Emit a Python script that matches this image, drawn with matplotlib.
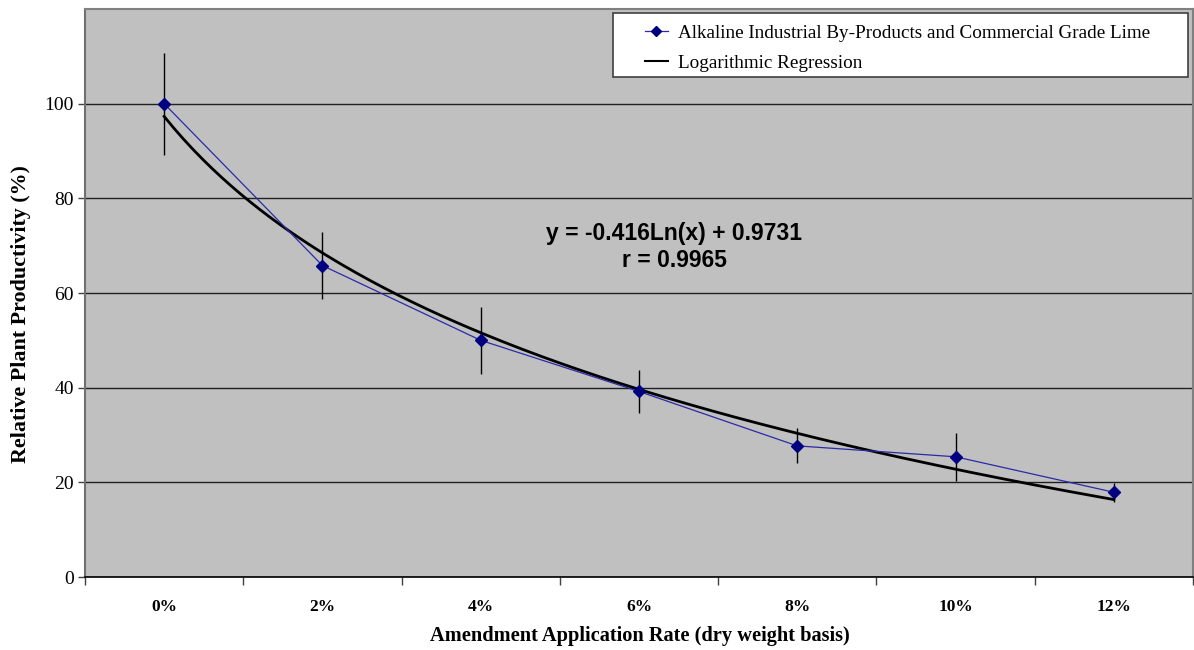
import numpy as np
import matplotlib
matplotlib.use("Agg")
import matplotlib.pyplot as plt
from matplotlib.lines import Line2D
from matplotlib.patches import Rectangle

categories = ["0%", "2%", "4%", "6%", "8%", "10%", "12%"]
productivity = [100.0, 65.8, 50.0, 39.2, 27.7, 25.4, 17.9]
error = [10.8, 7.0, 7.1, 4.6, 3.7, 5.1, 2.0]
coef_a = -0.416
coef_b = 0.9731
y_ticks = [0, 20, 40, 60, 80, 100]

serif = ["Liberation Serif", "DejaVu Serif"]
sans = ["Liberation Sans", "DejaVu Sans"]

W, H = 1194, 650
fig = plt.figure(figsize=(W / 100, H / 100), dpi=100)
ax = fig.add_axes([85/W, 73/H, 1108/W, 568/H])
ax.set_facecolor("#C0C0C0")

xi = np.arange(len(categories))
# data series with error bars
ax.errorbar(xi, productivity, yerr=error, fmt="none", ecolor="black", elinewidth=1.0, capsize=0, zorder=3)
ax.plot(xi, productivity, color="#2A2AA8", lw=0.9, marker="D", markersize=6.5,
        markerfacecolor="#000080", markeredgecolor="#000080", zorder=4)

# logarithmic regression trendline
xs = np.linspace(0, len(categories) - 1, 200)
ys = (coef_a * np.log(xs + 1) + coef_b) * 100
ax.plot(xs, ys, color="black", lw=2.0, zorder=3.5)

ax.set_xlim(-0.5, len(categories) - 0.5)
ax.set_ylim(0, 120)
ax.set_yticks(y_ticks)
ax.set_yticklabels([str(v) for v in y_ticks], family=serif, fontsize=14)
ax.set_xticks(xi)
ax.set_xticklabels(categories, family=serif, fontsize=12.5, fontweight="bold")
ax.set_xticks(np.arange(-0.5, len(categories)), minor=True)
ax.tick_params(axis="x", which="major", length=0, pad=16)
ax.tick_params(axis="x", which="minor", length=6, width=1, color="#404040", direction="out")
ax.tick_params(axis="y", length=5, width=1, color="#404040", direction="out", pad=3)
ax.grid(axis="y", color="#202020", lw=1.0)
ax.set_axisbelow(True)

for s in ["top", "right"]:
    ax.spines[s].set_color("#808080")
    ax.spines[s].set_linewidth(1.5)
ax.spines["left"].set_color("#707070")
ax.spines["left"].set_linewidth(1.5)
ax.spines["bottom"].set_color("black")
ax.spines["bottom"].set_linewidth(1.2)

fig.text(640/W, 1 - 636/H, "Amendment Application Rate (dry weight basis)", family=serif, fontsize=14.7,
         fontweight="bold", ha="center", va="center")
fig.text(21/W, 1 - 314/H, "Relative Plant Productivity (%)", family=serif, fontsize=15.8,
         fontweight="bold", ha="center", va="center", rotation=90)

ax.text(674/W, 1 - 247/H, "y = -0.416Ln(x) + 0.9731\nr = 0.9965", transform=fig.transFigure,
        ha="center", va="center", family=sans, fontsize=16.5, fontweight="bold", linespacing=1.27)

# legend box
box = Rectangle((613/W, 1 - 77/H), (1188 - 613)/W, 64/H, transform=fig.transFigure,
                facecolor="white", edgecolor="#404040", lw=1.2, zorder=5)
ax.add_artist(box)
box.set_clip_on(False)

handles = [
    Line2D([], [], color="#2A2AA8", lw=0.9, marker="D", markersize=5,
           markerfacecolor="#000080", markeredgecolor="#000080"),
    Line2D([], [], color="black", lw=1.5),
]
labels = ["Alkaline Industrial By-Products and Commercial Grade Lime", "Logarithmic Regression"]
leg = ax.legend(handles, labels, loc="center left", bbox_to_anchor=(645/W, 1 - 48/H),
                bbox_transform=fig.transFigure, prop={"family": serif, "size": 13.8},
                frameon=False, handlelength=1.2, handletextpad=0.5, borderpad=0,
                labelspacing=0.66, borderaxespad=0)
leg.set_zorder(6)

fig.savefig("out.png", dpi=100)
